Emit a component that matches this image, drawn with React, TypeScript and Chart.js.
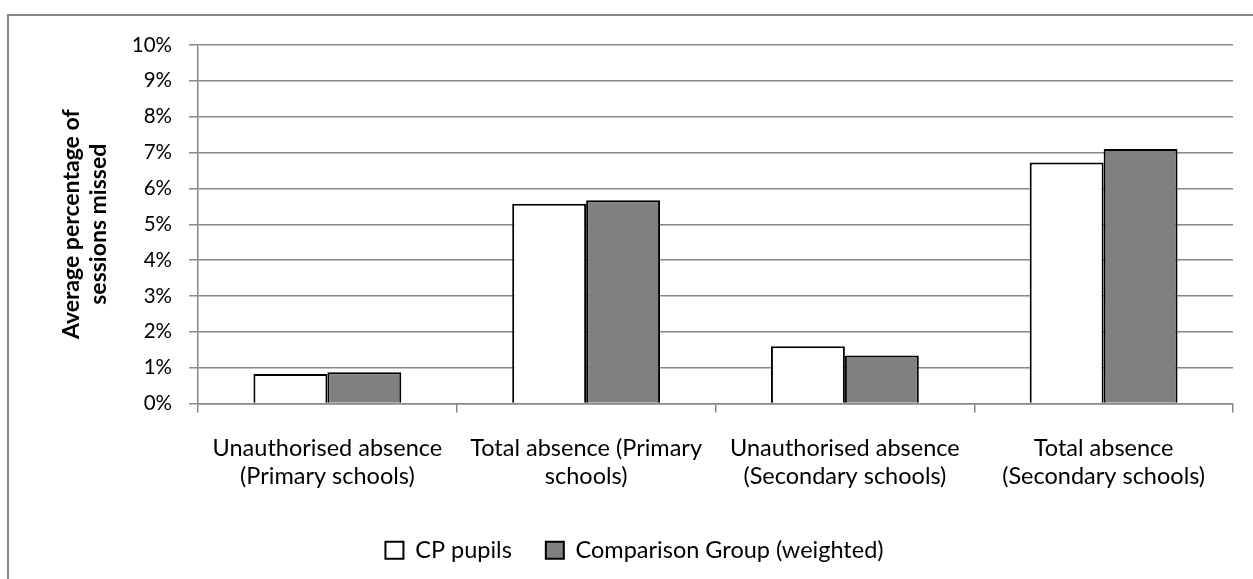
import React, { useEffect, useRef } from 'react';
import { Chart, registerables } from 'chart.js';

Chart.register(...registerables);

const categories: string[][] = [
  ['Unauthorised absence', '(Primary schools)'],
  ['Total absence (Primary', 'schools)'],
  ['Unauthorised absence', '(Secondary schools)'],
  ['Total absence', '(Secondary schools)'],
];
const cpPupils = [0.82, 5.57, 1.6, 6.72];
const comparisonGroup = [0.87, 5.67, 1.34, 7.1];
const seriesNames = ['CP pupils', 'Comparison Group (weighted)'];
const yTitle = ['Average percentage of', 'sessions missed'];

const FONT = 'Lato';
const GRID = '#888888';

export default function App() {
  const ref = useRef<HTMLCanvasElement>(null);

  useEffect(() => {
    const chart = new Chart(ref.current!, {
      type: 'bar',
      data: {
        labels: categories,
        datasets: [
          {
            label: seriesNames[0],
            data: cpPupils,
            backgroundColor: '#ffffff',
            borderColor: '#000000',
            borderWidth: 2,
          },
          {
            label: seriesNames[1],
            data: comparisonGroup,
            backgroundColor: '#808080',
            borderColor: '#000000',
            borderWidth: 2,
          },
        ],
      },
      options: {
        animation: false,
        responsive: true,
        maintainAspectRatio: false,
        datasets: {
          bar: { categoryPercentage: 2 / 3.5, barPercentage: 1 },
        },
        layout: { padding: { top: 45, right: 20, left: 36, bottom: 7 } },
        plugins: {
          tooltip: { enabled: false },
          legend: {
            position: 'bottom',
            labels: {
              boxWidth: 18,
              boxHeight: 17,
              padding: 34,
              color: '#000',
              font: { family: FONT, size: 23.5 },
            },
          },
        },
        scales: {
          x: {
            grid: {
              offset: true,
              drawOnChartArea: false,
              drawTicks: true,
              tickLength: 9,
              color: GRID,
              lineWidth: 1.5,
            },
            border: { display: true, color: GRID, width: 1.5 },
            ticks: {
              color: '#000',
              font: { family: FONT, size: 23.5, lineHeight: 1.2 },
              padding: 21.5,
              maxRotation: 0,
              minRotation: 0,
              autoSkip: false,
            },
            afterFit: (scale: any) => {
              scale.height = 101;
            },
          },
          y: {
            min: 0,
            max: 10,
            grid: {
              color: GRID,
              lineWidth: 1.5,
              drawTicks: true,
              tickLength: 9,
            },
            border: { display: true, color: GRID, width: 1.5 },
            ticks: {
              stepSize: 1,
              color: '#000',
              padding: 17,
              font: { family: FONT, size: 20.5 },
              callback: (v: any) => `${v}%`,
            },
            title: {
              display: true,
              text: yTitle,
              color: '#000',
              padding: { top: 22.5, bottom: 0 },
              font: { family: FONT, size: 23, weight: 'bold', lineHeight: 1.15 },
            },
            afterFit: (scale: any) => {
              scale.width = 162;
            },
          },
        },
      },
    });
    return () => chart.destroy();
  }, []);

  return (
    <div style={{ position: 'fixed', inset: 0, overflow: 'hidden', background: '#fff' }}>
      <div
        style={{
          position: 'absolute',
          left: 7,
          top: 14,
          width: 1400,
          height: 800,
          border: '2px solid #878787',
          boxSizing: 'border-box',
        }}
      />
      <div style={{ position: 'absolute', left: 0, top: 0, width: 1253, height: 579 }}>
        <canvas ref={ref} />
      </div>
    </div>
  );
}
